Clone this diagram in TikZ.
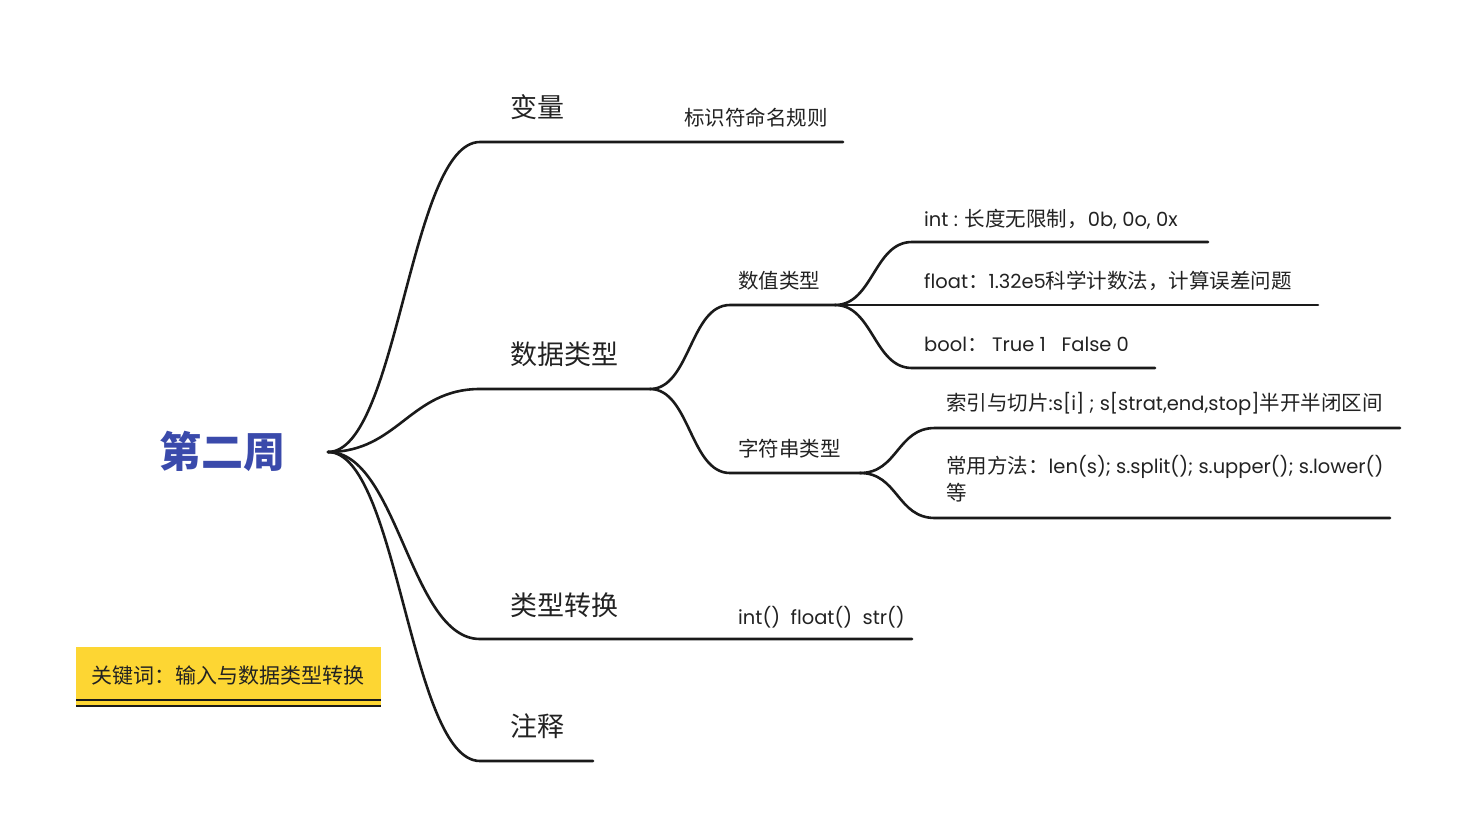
\documentclass[tikz,border=0pt]{standalone}
\usepackage{fontspec}
\setmainfont{Noto Sans CJK SC}
\newfontfamily\lat[Scale=0.95]{Poppins}
\definecolor{linec}{HTML}{1A1A1A}
\definecolor{rootblue}{HTML}{3A4AAB}
\definecolor{keyyellow}{HTML}{FDD633}
\definecolor{textc}{HTML}{222222}

\begin{document}
\begin{tikzpicture}[x=1pt, y=-1pt,
  branch/.style={draw=linec, line width=2.6pt, line cap=round},
  topic/.style={anchor=west, inner sep=0pt, text=textc, font=\fontsize{27}{30}\selectfont},
  subtopic/.style={anchor=west, inner sep=0pt, text=textc, font=\fontsize{20.5}{27}\selectfont},
  keytext/.style={inner sep=0pt, text=textc, font=\fontsize{21}{24}\selectfont}]
  \useasboundingbox (0,0) rectangle (1476,838);

  % root and hub
  \node[font=\fontsize{42}{48}\selectfont\bfseries, text=rootblue, inner sep=0pt] (root) at (222,451) {第二周};
  \coordinate (hub) at (328,452);

  % level one branches
  \coordinate (bl) at (480,142);  \coordinate (ble) at (843,142);
  \coordinate (sj) at (480,389);  \coordinate (sje) at (650,389);
  \coordinate (zh) at (480,639);  \coordinate (zhe) at (912,639);
  \coordinate (zs) at (480,761);  \coordinate (zse) at (593,761);
  \draw[branch] (hub) .. controls +(70,0) and +(-70,0) .. (bl) -- (ble);
  \draw[branch] (hub) .. controls +(70,0) and +(-70,0) .. (sj) -- (sje);
  \draw[branch] (hub) .. controls +(70,0) and +(-70,0) .. (zh) -- (zhe);
  \draw[branch] (hub) .. controls +(70,0) and +(-70,0) .. (zs) -- (zse);
  \node[topic] (bianliang) at (510,107) {变量};
  \node[subtopic] (biaoshi) at (684,118) {标识符命名规则};
  \node[topic] (shuju) at (510,354) {数据类型};
  \node[topic] (zhuanhuan) at (510,605) {类型转换};
  \node[subtopic] (hanshu) at (738,617) {\lat int()\ \ float()\ \ str()};
  \node[topic] (zhushi) at (510,726) {注释};

  % level two under data types
  \coordinate (sz) at (730,305);  \coordinate (sze) at (835,305);
  \coordinate (zf) at (730,473);  \coordinate (zfe) at (860,473);
  \draw[branch] (sje) .. controls +(40,0) and +(-40,0) .. (sz) -- (sze);
  \draw[branch] (sje) .. controls +(40,0) and +(-40,0) .. (zf) -- (zfe);
  \node[subtopic] (shuzhi) at (738,281) {数值类型};
  \node[subtopic] (zifu) at (738,449) {字符串类型};

  % numeric leaves
  \coordinate (it) at (912,242);  \coordinate (ite) at (1208,242);
  \coordinate (fle) at (1318,305);
  \coordinate (bo) at (912,368);  \coordinate (boe) at (1155,368);
  \draw[branch] (sze) .. controls +(38,0) and +(-38,0) .. (it) -- (ite);
  \draw[branch] (sze) -- (fle);
  \draw[branch] (sze) .. controls +(38,0) and +(-38,0) .. (bo) -- (boe);
  \node[subtopic] (intn) at (924,219) {{\lat int : }长度无限制，{\lat 0b, 0o, 0x}};
  \node[subtopic] (floatn) at (924,281) {{\lat float}：{\lat 1.32e5}科学计数法，计算误差问题};
  \node[subtopic] (booln) at (924,344) {{\lat bool}：\ {\lat True 1\ \ \ False 0}};

  % string leaves
  \coordinate (sy) at (935,428);  \coordinate (sye) at (1400,428);
  \coordinate (cy) at (935,518);  \coordinate (cye) at (1390,518);
  \draw[branch] (zfe) .. controls +(38,0) and +(-38,0) .. (sy) -- (sye);
  \draw[branch] (zfe) .. controls +(38,0) and +(-38,0) .. (cy) -- (cye);
  \node[subtopic] (suoyin) at (946,404) {索引与切片{\lat :s[i] ; s[strat,end,stop]}半开半闭区间};
  \node[subtopic, anchor=north west, align=left] (fangfa) at (946,455) {常用方法：{\lat len(s); s.split(); s.upper(); s.lower()}\\等};

  % keyword box
  \fill[keyyellow] (76,647) rectangle (381,707);
  \draw[linec, line width=2pt] (76,700) -- (381,700);
  \draw[linec, line width=1.5pt] (76,706) -- (381,706);
  \node[keytext] (guanjian) at (228,676) {关键词：输入与数据类型转换};
\end{tikzpicture}
\end{document}
